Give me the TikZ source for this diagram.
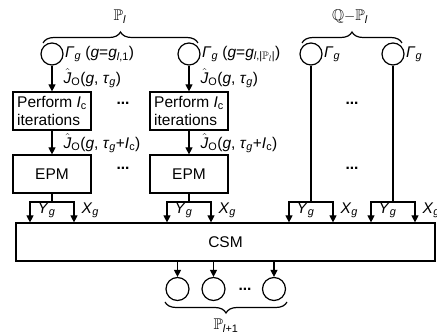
\documentclass[tikz,border=0pt]{standalone}
\usepackage{amssymb}
\usepackage{fontspec}
\setmainfont{Liberation Sans}
\usetikzlibrary{arrows.meta, positioning, decorations.pathreplacing}

\newcommand{\Gamg}{\textit{Γ}\textsubscript{\textit{g}}}
\newcommand{\Jhat}{$\hat{\mbox{\textit{J}}}$\textsubscript{O}}
\newcommand{\taug}{\textit{τ}\textsubscript{\textit{g}}}
\newcommand{\Ic}{\textit{I}\textsubscript{c}}

\begin{document}
\begin{tikzpicture}[x=1pt, y=-1pt, line width=1.2pt, >={Triangle[length=7pt,width=7pt]},
    every node/.style={font=\fontsize{15.5}{18}\selectfont},
    circ/.style={draw, circle, minimum size=22pt, inner sep=0pt},
    procbox/.style={draw, minimum width=78pt, minimum height=38pt, align=left, inner sep=2pt},
    csmbox/.style={draw, minimum width=419pt, minimum height=38pt},
    lab/.style={anchor=west, inner sep=1pt},
    setbrace/.style={decorate, decoration={brace, amplitude=11pt}}]
    \useasboundingbox (0,0) rectangle (437,336);

    % Current population and the rest
    \node[circ] (c1) at (52,54) {};
    \node[circ] (c2) at (189,54) {};
    \node[circ] (c3) at (311,54) {};
    \node[circ] (c4) at (393,54) {};
    \node[lab] (g1) at (c1.east) {\Gamg\ (\textit{g}=\textit{g}\textsubscript{\textit{l},1})};
    \node[lab] (g2) at (c2.east) {\Gamg\ (\textit{g}=\textit{g}\textsubscript{\textit{l},|$\mathbb{P}_l$|})};
    \node[lab] (g3) at (c3.east) {\Gamg};
    \node[lab] (g4) at (c4.east) {\Gamg};

    % Braces over the sets
    \coordinate (b1l) at (43,43);
    \coordinate (b1r) at (198,43);
    \coordinate (b2l) at (302,43);
    \coordinate (b2r) at (402,43);
    \draw[setbrace] (b1l) -- (b1r);
    \draw[setbrace] (b2l) -- (b2r);
    \node (pl) at (120,17) {$\mathbb{P}$\textsubscript{\textit{l}}};
    \node (ql) at (350,17) {$\mathbb{Q}{-}\mathbb{P}$\textsubscript{\textit{l}}};

    % Tuning and evaluation
    \node[procbox] (p1) at (52,111) {Perform \Ic\\iterations};
    \node[procbox] (p2) at (189,111) {Perform \Ic\\iterations};
    \node[procbox, align=center] (e1) at (52,174) {EPM};
    \node[procbox, align=center] (e2) at (189,174) {EPM};
    \draw[->] (c1) -- (p1);
    \draw[->] (c2) -- (p2);
    \draw[->] (p1) -- (e1);
    \draw[->] (p2) -- (e2);
    \node[lab] (j1) at (62,78) {\Jhat(\textit{g}, \taug)};
    \node[lab] (j2) at (199,78) {\Jhat(\textit{g}, \taug)};
    \node[lab] (k1) at (62,143) {\Jhat(\textit{g}, \taug+\Ic)};
    \node[lab] (k2) at (199,143) {\Jhat(\textit{g}, \taug+\Ic)};
    \node (d1) at (123,103) {\textbf{...}};
    \node (d2) at (123,168) {\textbf{...}};
    \node (d3) at (352,103) {\textbf{...}};
    \node (d4) at (352,168) {\textbf{...}};

    % Selection
    \node[csmbox] (csm) at (225.5,242) {CSM};
    \foreach \i/\x in {1/52, 2/189, 3/311, 4/393} {
        \coordinate (s\i) at (\x,202);
        \coordinate (y\i) at (\x-22,202);
        \coordinate (x\i) at (\x+22,202);
        \draw[->] (s\i) -- (y\i) -- (y\i |- csm.north);
        \draw[->] (s\i) -- (x\i) -- (x\i |- csm.north);
        \node[lab] (ylab\i) at (\x-16,210) {\textit{Y}\textsubscript{\textit{g}}};
        \node[lab] (xlab\i) at (\x+28,210) {\textit{X}\textsubscript{\textit{g}}};
    }
    \draw (e1) -- (s1);
    \draw (e2) -- (s2);
    \draw (c3) -- (s3);
    \draw (c4) -- (s4);

    % Next population
    \node[circ, minimum size=23pt] (n1) at (177.5,289) {};
    \node[circ, minimum size=23pt] (n2) at (213.5,289) {};
    \node[circ, minimum size=23pt] (n3) at (274,289) {};
    \node (d5) at (245,289) {\textbf{...}};
    \foreach \n in {n1, n2, n3}
        \draw[->] (\n |- csm.south) -- (\n);
    \coordinate (b3l) at (165,302);
    \coordinate (b3r) at (287,302);
    \draw[setbrace] (b3r) -- (b3l);
    \node (pn) at (226,326) {$\mathbb{P}$\textsubscript{\textit{l}+1}};
\end{tikzpicture}
\end{document}
